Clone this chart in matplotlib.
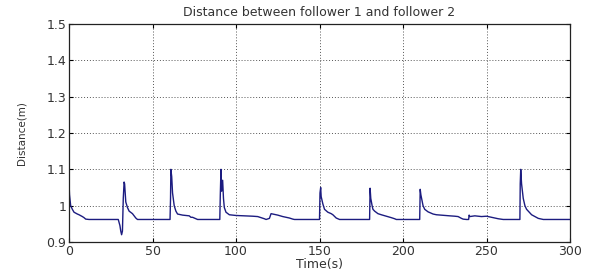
import numpy as np
import matplotlib.pyplot as plt

# values (time in s, distance in m)
t = [0, 0.3, 1, 2, 3, 5, 6, 8, 9, 10, 12, 29.5, 30.5, 31, 31.5, 32, 32.5, 33, 33.3, 34, 35, 36, 38, 39, 40, 41,
     60.5, 60.8, 61, 61.5, 62, 63, 64, 65, 68, 70, 72, 73, 74, 76, 77,
     90.3, 90.6, 91, 91.4, 92, 92.5, 93, 94, 96, 100, 105, 110, 113, 115, 117, 118, 120, 121, 122, 125, 128, 130, 132, 134, 135,
     150, 150.3, 150.7, 151, 152, 153, 155, 157, 158, 160, 162,
     180, 180.3, 180.7, 181.5, 182, 183, 185, 187, 190, 193, 195, 196,
     210, 210.3, 210.7, 212, 213, 215, 218, 220, 225, 228, 231, 233, 235, 236, 238, 239.3, 239.6, 240, 243, 247, 250, 253, 255, 257, 260,
     270, 270.2, 270.5, 271, 272, 273, 274, 276, 277, 279, 281, 283, 284, 300]
d = [1.063, 1.03, 1.0, 0.99, 0.982, 0.977, 0.975, 0.97, 0.967, 0.963, 0.962, 0.962, 0.945, 0.93, 0.92, 0.93, 1.02, 1.065, 1.06, 1.01, 0.995, 0.985, 0.978, 0.972, 0.966, 0.962,
     0.962, 1.02, 1.10, 1.08, 1.035, 1.0, 0.985, 0.977, 0.974, 0.973, 0.972, 0.968, 0.968, 0.964, 0.962,
     0.962, 1.03, 1.10, 1.04, 1.07, 1.02, 0.995, 0.982, 0.975, 0.973, 0.972, 0.971, 0.970, 0.967, 0.964, 0.962, 0.965, 0.978, 0.977, 0.974, 0.970, 0.968, 0.966, 0.963, 0.962,
     0.962, 1.035, 1.05, 1.025, 1.005, 0.99, 0.982, 0.978, 0.975, 0.966, 0.962,
     0.962, 1.048, 1.02, 1.0, 0.99, 0.985, 0.978, 0.975, 0.971, 0.967, 0.964, 0.962,
     0.962, 1.045, 1.03, 1.0, 0.99, 0.983, 0.977, 0.975, 0.973, 0.972, 0.971, 0.970, 0.965, 0.963, 0.962, 0.962, 0.974, 0.970, 0.972, 0.970, 0.971, 0.968, 0.966, 0.964, 0.962,
     0.962, 1.06, 1.10, 1.06, 1.02, 1.0, 0.99, 0.98, 0.975, 0.970, 0.965, 0.963, 0.962, 0.962]

xticks = [0, 50, 100, 150, 200, 250, 300]
yticks = [0.9, 1.0, 1.1, 1.2, 1.3, 1.4, 1.5]
ytick_labels = ['0.9', '1', '1.1', '1.2', '1.3', '1.4', '1.5']

txt = '#333333'

fig = plt.figure(figsize=(5.97, 2.72), dpi=100)
ax = fig.add_axes([69/597, 30/272, 501/597, 218/272])

ax.plot(t, d, color='#1c1c80', lw=1.0)

ax.set_xlim(0, 300)
ax.set_ylim(0.9, 1.5)
ax.set_xticks(xticks)
ax.set_yticks(yticks)
ax.set_yticklabels(ytick_labels)
ax.tick_params(direction='in', top=True, right=True, length=3, labelsize=9, pad=2, labelcolor=txt)
ax.grid(True, color='#555555', linestyle=(0, (1, 2)), lw=0.7)
for s in ax.spines.values():
    s.set_linewidth(0.9)
    s.set_color('#222222')

ax.set_title('Distance between follower 1 and follower 2', fontsize=9, pad=6, color=txt)
ax.set_xlabel('Time(s)', fontsize=9, labelpad=0, color=txt)
ax.set_ylabel('Distance(m)', fontsize=7.5, family=['Liberation Sans Narrow', 'DejaVu Sans'], labelpad=14, color=txt)

fig.savefig('out.png', dpi=100)
